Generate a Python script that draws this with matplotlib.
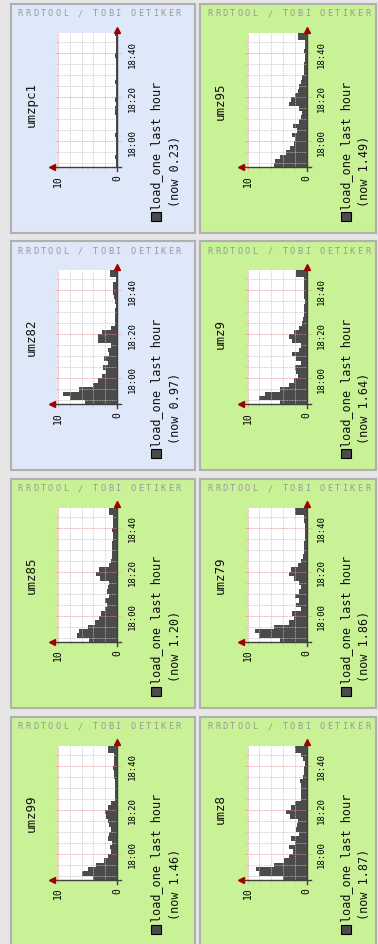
import numpy as np
import matplotlib.pyplot as plt
from matplotlib.patches import Rectangle

# eight rrdtool "load_one last hour" graphs, rotated 90 degrees
hosts = ['umzpc1', 'umz95', 'umz82', 'umz9', 'umz85', 'umz79', 'umz99', 'umz8']
now_vals = ['0.23', '1.49', '0.97', '1.64', '1.20', '1.86', '1.46', '1.87']
panel_bg = ['#dee8f8', '#c9f195', '#dee8f8', '#c9f195',
            '#c9f195', '#c9f195', '#c9f195', '#c9f195']

# sample times, minutes relative to 18:00
minutes = np.arange(-12, 50, 2)

load_umzpc1 = [0.2, 0.1, 0.3, 0.1, 0.2, 0.1, 0.2, 0.3, 0.1, 0.2, 0.1, 0.2, 0.3, 0.4, 0.2, 0.3,
               0.2, 0.1, 0.2, 0.3, 0.1, 0.2, 0.1, 0.2, 0.1, 0.3, 0.2, 0.1, 0.2, 0.1, 0.4]
load_umz95 = [5.5, 5.3, 4.5, 3.5, 2.8, 2.2, 2.0, 2.4, 1.6, 2.3, 1.3, 1.0, 0.8, 1.2, 3.0, 2.6,
              2.0, 1.5, 1.2, 1.0, 0.8, 0.5, 0.4, 0.4, 0.3, 0.2, 0.4, 0.3, 0.2, 1.5, 1.5]
load_umz82 = [5.5, 8.0, 9.2, 6.5, 4.0, 3.2, 2.6, 1.8, 2.4, 1.6, 2.2, 1.3, 1.5, 1.0, 3.2, 3.2,
              2.6, 1.0, 0.3, 0.4, 0.3, 0.3, 0.2, 0.4, 0.5, 0.7, 0.7, 0.6, 0.2, 1.2, 1.2]
load_umz9 = [4.5, 8.0, 7.0, 4.5, 3.0, 2.2, 1.5, 1.8, 1.9, 1.0, 1.8, 2.4, 1.3, 1.0, 2.4, 2.9,
             2.2, 1.2, 0.8, 0.6, 0.4, 0.4, 0.4, 0.3, 0.4, 0.4, 0.5, 0.4, 0.4, 1.7, 1.7]
load_umz85 = [4.8, 6.8, 6.5, 5.0, 3.8, 3.0, 2.7, 2.0, 1.7, 2.0, 1.4, 1.7, 1.5, 1.4, 2.8, 3.6,
              3.0, 1.4, 1.0, 0.9, 0.8, 0.8, 0.8, 0.7, 0.7, 0.8, 0.7, 0.6, 0.6, 1.4, 1.4]
load_umz79 = [4.5, 8.0, 8.8, 5.5, 3.0, 2.2, 2.4, 1.0, 1.8, 1.3, 2.0, 1.3, 1.0, 1.2, 2.2, 3.0,
              2.6, 1.5, 0.9, 0.6, 0.5, 0.4, 0.4, 0.3, 0.3, 0.3, 0.3, 0.4, 0.4, 1.9, 1.9]
load_umz99 = [4.0, 6.0, 5.0, 3.5, 2.2, 1.6, 1.1, 1.2, 0.8, 1.5, 1.3, 1.1, 1.3, 1.5, 1.8, 2.1,
              1.6, 1.0, 0.4, 0.3, 0.3, 0.3, 0.4, 0.5, 0.5, 0.6, 0.5, 0.5, 0.5, 1.5, 1.5]
load_umz8 = [4.0, 8.0, 8.6, 5.5, 3.8, 3.0, 2.3, 3.0, 1.9, 2.6, 1.3, 1.8, 1.6, 1.5, 2.8, 3.4,
             2.6, 2.0, 1.0, 0.9, 1.0, 1.0, 1.1, 0.6, 0.5, 0.4, 0.3, 0.6, 1.0, 1.9, 1.9]
loads = [load_umzpc1, load_umz95, load_umz82, load_umz9,
         load_umz85, load_umz79, load_umz99, load_umz8]

time_ticks = [0, 20, 40]
time_labels = ['18:00', '18:20', '18:40']

W, H = 378, 945
fig = plt.figure(figsize=(W / 100, H / 100), dpi=100, facecolor='#e6e6e6')
bg = fig.add_axes([0, 0, 1, 1])
bg.set_xlim(0, W)
bg.set_ylim(H, 0)
bg.axis('off')


def px_rect(x0, y0, x1, y1):
    return [x0 / W, 1 - y1 / H, (x1 - x0) / W, (y1 - y0) / H]


col_x = [0, 189.5]
row_y = [0, 237, 474.5, 712.5]
panel_x = [(11, 195), (200, 376)]
mono = 'DejaVu Sans Mono'
fill_col = '#4b4b4b'
minor_c = '#c0c0c0'
major_c = '#e08c8c'

for i, name in enumerate(hosts):
    r, c = divmod(i, 2)
    ox, oy = col_x[c], row_y[r]
    x0, x1 = panel_x[c]
    bg.add_patch(Rectangle((x0, oy + 5), x1 - x0, 229, fc=panel_bg[i], ec='#b0b0b0', lw=1.5))

    # watermark, spread out like rrdtool draws it
    for k, ch in enumerate('RRDTOOL / TOBI OETIKER'):
        bg.text(ox + 20.5 + 7.5 * k, oy + 14, ch, fontsize=6.2, family=mono,
                color='#999999', ha='center', va='center')

    bg.text(ox + 31, oy + 82, name, rotation=90, fontsize=9, family=mono,
            ha='center', va='top', color='#101010')

    # legend
    bg.add_patch(Rectangle((ox + 151, oy + 213), 10, 9, fc=fill_col, ec='black', lw=0.8))
    bg.text(ox + 157, oy + 210, 'load_one last hour', rotation=90, fontsize=8.5,
            family=mono, ha='center', va='bottom', color='#101010')
    bg.text(ox + 175, oy + 207, '(now %s)' % now_vals[i], rotation=90, fontsize=8.5,
            family=mono, ha='center', va='bottom', color='#101010')

    ax = fig.add_axes(px_rect(ox + 58, oy + 34.3, ox + 117, oy + 168.3))
    ax.set_facecolor('white')
    ax.set_xlim(10, 0)
    ax.set_ylim(-11.8, 49.1)
    for s in ax.spines.values():
        s.set_visible(False)

    # grid
    for v in (2, 4, 6, 8):
        ax.plot([v, v], [-13.2, 49.1], ls=(0, (1, 1)), color=minor_c, lw=0.6, clip_on=False)
    ax.plot([10, 10], [-13.2, 49.1], ls=(0, (1, 1)), color=major_c, lw=0.6, clip_on=False)
    for t in range(-10, 50, 5):
        if t % 20 == 0:
            ax.plot([10.5, -0.7], [t, t], ls=(0, (1, 1)), color=major_c, lw=0.6, clip_on=False)
        else:
            ax.plot([10.5, 0], [t, t], ls=(0, (1, 1)), color=minor_c, lw=0.6, clip_on=False)

    tt = np.append(minutes, minutes[-1] + 2)
    vv = np.append(loads[i], loads[i][-1])
    ax.fill_betweenx(tt, vv, 0, step='post', color=fill_col, lw=0)

    # axes with arrows
    ax.plot([0, 0], [-13.5, 50.5], color='#404040', lw=1, clip_on=False)
    ax.plot([11.0, -0.7], [-11.8, -11.8], color='#404040', lw=1, clip_on=False)
    ax.plot(0, 50.8, marker='^', ms=4.5, color='#a00000', clip_on=False)
    ax.plot(11.1, -11.8, marker='<', ms=4.5, color='#a00000', clip_on=False)

    ax.yaxis.tick_right()
    ax.set_yticks(time_ticks)
    ax.set_yticklabels(time_labels, rotation=90, va='center', fontsize=6.5, family=mono)
    ax.set_xticks([10, 0])
    ax.set_xticklabels(['10', '0'], rotation=90, fontsize=7, family=mono)
    ax.tick_params(axis='y', length=0, pad=7.5)
    ax.tick_params(axis='x', length=0, pad=5)

fig.savefig('out.png', dpi=100, facecolor=fig.get_facecolor())
